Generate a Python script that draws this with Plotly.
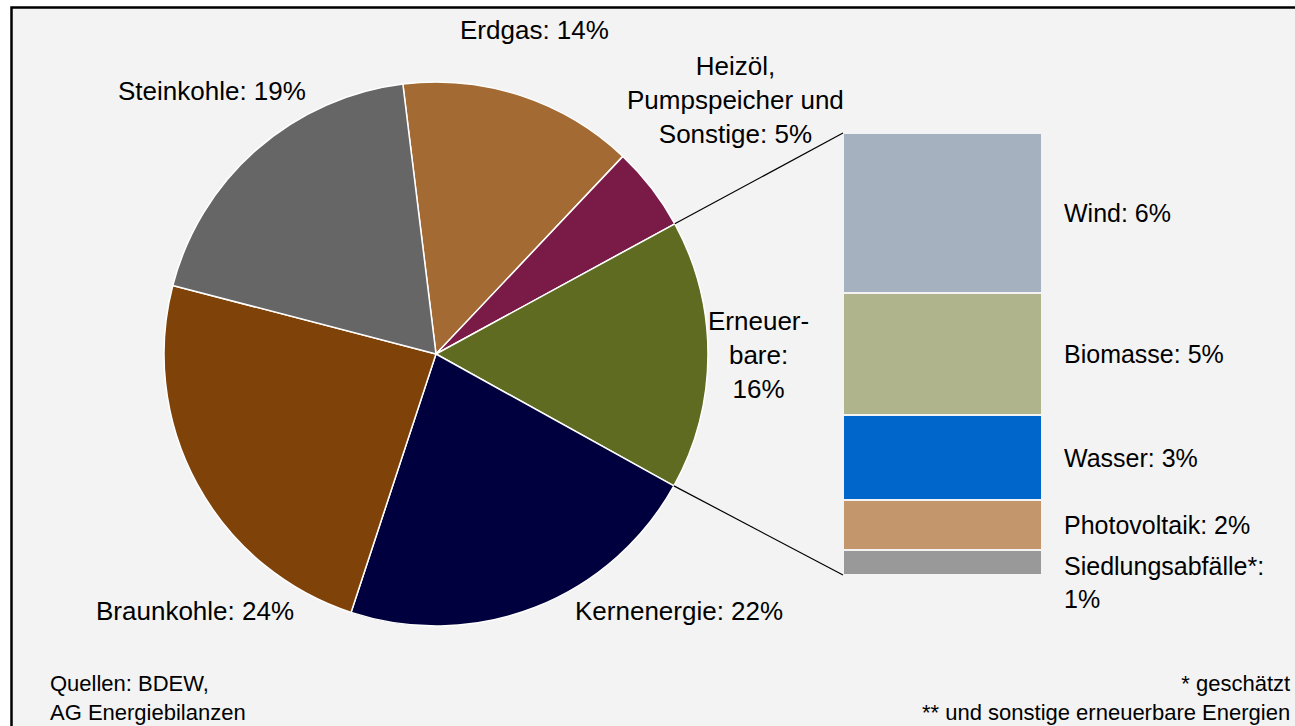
import math
import plotly.graph_objects as go

W, H = 1295, 726

# Stromerzeugung - Anteile
pie_labels = ["Erdgas", "Heizöl, Pumpspeicher und Sonstige", "Erneuerbare",
              "Kernenergie", "Braunkohle", "Steinkohle"]
pie_values = [14, 5, 16, 22, 24, 19]
pie_texts = ["Erdgas: 14%", "Heizöl,<br>Pumpspeicher und<br>Sonstige: 5%",
             "Erneuer-<br>bare:<br>16%", "Kernenergie: 22%",
             "Braunkohle: 24%", "Steinkohle: 19%"]
pie_colors = ["#A36B33", "#7A1A47", "#5F6B21", "#00003F", "#7F4309", "#666666"]

# Aufteilung der Erneuerbaren (von unten nach oben)
ee_labels = ["Siedlungsabfälle", "Photovoltaik", "Wasser", "Biomasse", "Wind"]
ee_values = [0.9, 1.8, 3.1, 4.4, 5.8]
ee_texts = ["Siedlungsabfälle*:<br>1%", "Photovoltaik: 2%", "Wasser: 3%",
            "Biomasse: 5%", "Wind: 6%"]
ee_colors = ["#999999", "#C3966B", "#0066CC", "#B0B48C", "#A6B1C0"]

# label positions in pixels (centre of text)
label_pos = [(534, 30), (735, 100), (758, 355), (679, 611), (195, 611), (212, 91)]

FONT = "Liberation Sans, Arial, sans-serif"

# pie geometry (pixels)
cx, cy, r = 436, 354, 272
rotation = -7

pie_dom_x = [(cx - r) / W, (cx + r) / W]
pie_dom_y = [1 - (cy + r) / H, 1 - (cy - r) / H]

bar_dom_x = [843 / W, 1042 / W]
bar_dom_y = [1 - 575 / H, 1 - 133 / H]

fig = go.Figure()

fig.add_trace(go.Pie(
    labels=pie_labels,
    values=pie_values,
    sort=False,
    direction="clockwise",
    rotation=rotation,
    marker=dict(colors=pie_colors, line=dict(color="white", width=1.5)),
    textinfo="none",
    hoverinfo="label+percent",
    domain=dict(x=pie_dom_x, y=pie_dom_y),
    showlegend=False,
))

for lab, val, col in zip(ee_labels, ee_values, ee_colors):
    fig.add_trace(go.Bar(
        x=[0], y=[val], name=lab,
        marker=dict(color=col, line=dict(color="#F3F3F3", width=2)),
        showlegend=False,
    ))

# pie labels
annotations = []
for txt, (px_, py_) in zip(pie_texts, label_pos):
    annotations.append(dict(
        text=txt, x=px_ / W, y=1 - py_ / H, xref="paper", yref="paper",
        showarrow=False, xanchor="center", yanchor="middle", align="center",
        font=dict(size=26, color="black", family=FONT),
    ))

# bar labels
total = sum(ee_values)
cum = 0
for lab, val, txt in zip(ee_labels, ee_values, ee_texts):
    if lab == "Siedlungsabfälle":
        yy, ya = cum + val, "top"
    else:
        yy, ya = cum + val / 2, "middle"
    annotations.append(dict(
        text=txt, x=0.5, y=yy, xref="x", yref="y", showarrow=False,
        xanchor="left", yanchor=ya, align="left", xshift=20,
        font=dict(size=25, color="black", family=FONT),
    ))
    cum += val

annotations.append(dict(
    text="Quellen: BDEW,<br>AG Energiebilanzen", x=48 / W, y=1 - 698 / H,
    xref="paper", yref="paper", showarrow=False, xanchor="left",
    yanchor="middle", align="left", font=dict(size=22, color="black", family=FONT)))
annotations.append(dict(
    text="* geschätzt<br>** und sonstige erneuerbare Energien", x=1292 / W, y=1 - 698 / H,
    xref="paper", yref="paper", showarrow=False, xanchor="right",
    yanchor="middle", align="right", font=dict(size=22, color="black", family=FONT)))


# connector lines: from edge of "Erneuerbare" slice to the bar corners
def pie_point(frac):
    ang = math.radians(rotation + 360 * frac)
    x = cx + r * math.sin(ang)
    y = cy - r * math.cos(ang)
    return x / W, 1 - y / H


start_ee = sum(pie_values[:2]) / sum(pie_values)
end_ee = sum(pie_values[:3]) / sum(pie_values)
p_top = pie_point(start_ee)
p_bot = pie_point(end_ee)

shapes = [
    dict(type="rect", xref="paper", yref="paper", x0=11.5 / W, x1=1.05,
         y0=-0.05, y1=1 - 7.5 / H, fillcolor="#F3F3F3",
         line=dict(color="black", width=2.5), layer="below"),
    dict(type="line", xref="paper", yref="paper", x0=p_top[0], y0=p_top[1],
         x1=bar_dom_x[0], y1=bar_dom_y[1], line=dict(color="black", width=1.2)),
    dict(type="line", xref="paper", yref="paper", x0=p_bot[0], y0=p_bot[1],
         x1=bar_dom_x[0], y1=bar_dom_y[0], line=dict(color="black", width=1.2)),
]

fig.update_layout(
    width=W, height=H,
    margin=dict(l=0, r=0, t=0, b=0),
    paper_bgcolor="white",
    plot_bgcolor="rgba(0,0,0,0)",
    barmode="stack",
    bargap=0,
    xaxis=dict(domain=bar_dom_x, range=[-0.5, 0.5], visible=False, fixedrange=True),
    yaxis=dict(domain=bar_dom_y, range=[0, total], visible=False, fixedrange=True),
    annotations=annotations,
    shapes=shapes,
    font=dict(family=FONT),
)

fig.write_html("out.html", config={"displayModeBar": False},
               post_script="document.body.style.margin='0';")
